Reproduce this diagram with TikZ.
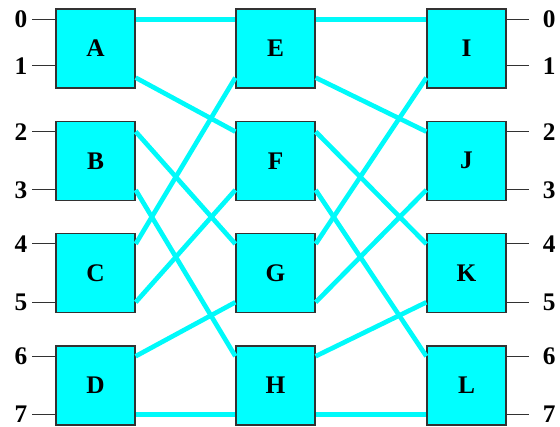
\documentclass[tikz,border=0pt]{standalone}
\usepackage{fontspec}
\setmainfont{Liberation Serif}
\usetikzlibrary{positioning}
\definecolor{boxcyan}{RGB}{0,255,255}
\definecolor{linkcyan}{RGB}{0,250,250}
\definecolor{pingray}{RGB}{50,50,50}

\begin{document}
\begin{tikzpicture}[x=0.75pt,y=-0.75pt,
  sbox/.style={draw=pingray,line width=1pt,fill=boxcyan,minimum size=59.25pt,inner sep=0pt,font=\fontsize{19}{22}\selectfont\bfseries},
  link/.style={linkcyan,line width=3.5pt},
  pin/.style={draw=pingray,line width=0.75pt},
  plbl/.style={inner sep=0pt,font=\fontsize{19}{22}\selectfont\bfseries},
]
  \useasboundingbox (0,0) rectangle (560,427);
  % switch boxes, three stages
  \foreach \l/\m/\r [count=\i from 0] in {A/E/I,B/F/J,C/G/K,D/H/L} {
    \node[sbox] (\l) at (95.5,48.5+112.3*\i) {\l};
    \node[sbox] (\m) at (275.5,48.5+112.3*\i) {\m};
    \node[sbox] (\r) at (466.5,48.5+112.3*\i) {\r};
  }
  % ports on each box
  \foreach \n in {A,B,C,D,E,F,G,H,I,J,K,L} {
    \coordinate (\n-iu) at ([yshift=-8.25pt]\n.north west);
    \coordinate (\n-il) at ([yshift=8.25pt]\n.south west);
    \coordinate (\n-ou) at ([yshift=-8.25pt]\n.north east);
    \coordinate (\n-ol) at ([yshift=8.25pt]\n.south east);
  }
  % perfect shuffle between stages
  \foreach \s/\t in {A-ou/E-iu,A-ol/F-iu,B-ou/G-iu,B-ol/H-iu,
                     C-ou/E-il,C-ol/F-il,D-ou/G-il,D-ol/H-il,
                     E-ou/I-iu,E-ol/J-iu,F-ou/K-iu,F-ol/L-iu,
                     G-ou/I-il,G-ol/J-il,H-ou/K-il,H-ol/L-il}
    \draw[link] (\s) -- (\t);
  % inputs and outputs
  \foreach \l/\r/\a/\b/\d in {A/I/0/1/17.25,B/J/2/3/8.25,C/K/4/5/8.25,D/L/6/7/8.25} {
    \draw[pin] (\l-iu) -- ++(-23,0) coordinate (pi\a);
    \draw[pin] ([yshift=\d pt]\l.south west) -- ++(-23,0) coordinate (pi\b);
    \node[plbl,left=3.5pt of pi\a] (li\a) {\a};
    \node[plbl,left=3.5pt of pi\b] (li\b) {\b};
    \draw[pin] (\r-ou) -- ++(22,0) coordinate (po\a);
    \draw[pin] ([yshift=\d pt]\r.south east) -- ++(22,0) coordinate (po\b);
    \node[plbl,right=10.5pt of po\a] (lo\a) {\a};
    \node[plbl,right=10.5pt of po\b] (lo\b) {\b};
  }
\end{tikzpicture}
\end{document}
